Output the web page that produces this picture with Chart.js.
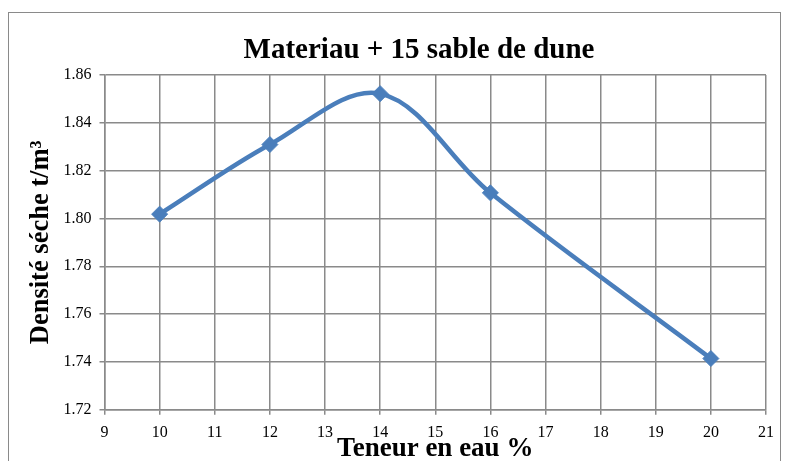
<!DOCTYPE html>
<html lang="fr">
<head>
    <meta charset="UTF-8">
    <title>Materiau + 15 sable de dune</title>
    <script src="https://cdn.jsdelivr.net/npm/chart.js"></script>
    <style>
        html, body { margin: 0; padding: 0; background: #fff; }
        #wrap { position: relative; width: 790px; height: 461px; overflow: hidden; }
        #frame { position: absolute; left: 8px; top: 12px; width: 773px; height: 480px; border: 1.5px solid #8a8a8a; box-sizing: border-box; }
        canvas { position: absolute; left: 0; top: 0; }
    </style>
</head>
<body>
<div id="wrap">
    <div id="frame"></div>
    <canvas id="chart" width="790" height="461"></canvas>
</div>
<script>
    // teneur en eau (%) et densité sèche (t/m3)
    const waterContent = [10, 12, 14, 16, 20];
    const dryDensity = [1.8018, 1.8309, 1.8522, 1.8107, 1.7414];

    const chartTitle = "Materiau + 15 sable de dune";
    const xTitle = "Teneur en eau %";
    const yTitle = "Densité séche t/m³";

    const serif = "'Liberation Serif', 'Times New Roman', serif";
    const gridColor = "#8a8a8a";
    const lineColor = "#4a7ebb";

    // title drawn over the plot, centred like the Excel original
    const titlePlugin = {
        id: "excelTitle",
        afterDraw(chart) {
            const ctx = chart.ctx;
            ctx.save();
            ctx.font = "bold 29px " + serif;
            ctx.fillStyle = "#000";
            ctx.textAlign = "center";
            ctx.textBaseline = "middle";
            ctx.fillText(chartTitle, 419, 51);
            ctx.restore();
        }
    };

    new Chart(document.getElementById("chart"), {
        type: "line",
        data: {
            datasets: [{
                data: waterContent.map((x, i) => ({ x: x, y: dryDensity[i] })),
                borderColor: lineColor,
                backgroundColor: lineColor,
                borderWidth: 4.5,
                tension: 0.35,
                pointStyle: "rectRot",
                pointRadius: 8,
                pointBorderWidth: 1,
                fill: false
            }]
        },
        options: {
            responsive: false,
            animation: false,
            layout: { padding: { left: 20, right: 24, top: 75, bottom: 0 } },
            plugins: {
                legend: { display: false },
                tooltip: { enabled: false }
            },
            scales: {
                x: {
                    type: "linear",
                    min: 9,
                    max: 21,
                    ticks: { stepSize: 1, color: "#000", padding: 8, font: { family: serif, size: 16 } },
                    grid: { color: gridColor, lineWidth: 1.5, tickLength: 5 },
                    border: { color: gridColor, width: 1.5 },
                    title: { display: true, text: xTitle, color: "#000", padding: { top: 0, bottom: -1.5 }, font: { family: serif, size: 27, weight: "bold", lineHeight: 1 } },
                    afterFit(scale) { scale.height = 51.3; }
                },
                y: {
                    min: 1.72,
                    max: 1.86,
                    ticks: { stepSize: 0.02, color: "#000", padding: 8, font: { family: serif, size: 16 },
                        callback: v => v.toFixed(2) },
                    grid: { color: gridColor, lineWidth: 1.5, tickLength: 5 },
                    border: { color: gridColor, width: 1.5 },
                    title: { display: true, text: yTitle, color: "#000", padding: { top: 7.5, bottom: 0 }, font: { family: serif, size: 26.5, weight: "bold", lineHeight: 1 } },
                    afterFit(scale) { scale.width = 84.5; }
                }
            }
        },
        plugins: [titlePlugin]
    });
</script>
</body>
</html>
